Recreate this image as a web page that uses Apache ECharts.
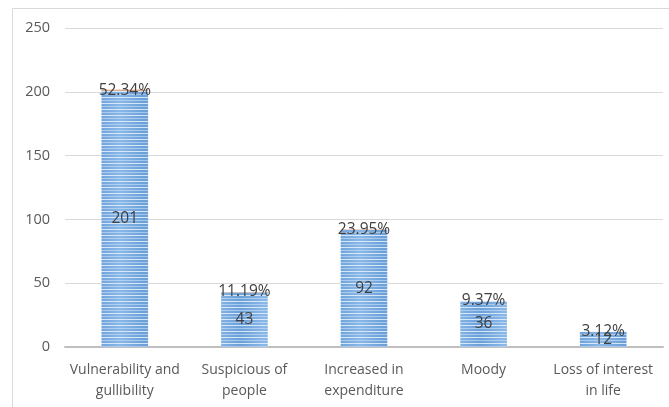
<!DOCTYPE html>
<html><head><meta charset="utf-8">
<script src="https://cdn.jsdelivr.net/npm/echarts@6/dist/echarts.min.js"></script>
<style>html,body{margin:0;padding:0;background:#fff}#c{width:669px;height:407px}</style>
</head><body><div id="c"></div>
<script>
const categories = ["Vulnerability and\ngullibility", "Suspicious of\npeople", "Increased in\nexpenditure", "Moody", "Loss of interest\nin life"];
const counts = [201, 43, 92, 36, 12];
const percents = [52.34, 11.19, 23.95, 9.37, 3.12];
const yTicks = [0, 50, 100, 150, 200, 250];

function stripePattern() {
  const cv = document.createElement('canvas');
  cv.width = 48; cv.height = 6;
  const ctx = cv.getContext('2d');
  const g = ctx.createLinearGradient(0, 0, 48, 0);
  g.addColorStop(0, '#6a9fd8'); g.addColorStop(0.5, '#8ab8e8'); g.addColorStop(1, '#6a9fd8');
  ctx.fillStyle = g; ctx.fillRect(0, 0, 48, 6);
  ctx.fillStyle = 'rgba(230,241,252,0.85)';
  ctx.fillRect(0, 1, 48, 1);
  ctx.fillStyle = 'rgba(205,225,246,0.6)';
  ctx.fillRect(0, 4, 48, 1);
  return cv;
}

const chart = echarts.init(document.getElementById('c'));
chart.setOption({
  animation: false,
  graphic: [{ type: 'rect', shape: { x: 12.5, y: 8.5, width: 700, height: 450 }, style: { fill: 'none', stroke: '#d9d9d9', lineWidth: 1 }, silent: true }],
  grid: { left: 65, right: 6, top: 28, bottom: 60 },
  xAxis: {
    type: 'category', data: categories,
    axisLine: { lineStyle: { color: '#bfbfbf', width: 2 } },
    axisTick: { show: false },
    axisLabel: { color: '#595959', fontFamily: 'Open Sans', fontSize: 14, lineHeight: 21, margin: 13, interval: 0 }
  },
  yAxis: {
    type: 'value', min: yTicks[0], max: yTicks[yTicks.length - 1], interval: 50,
    axisLine: { show: false }, axisTick: { show: false },
    axisLabel: { color: '#595959', fontFamily: 'Open Sans', fontSize: 14.5, margin: 15 },
    splitLine: { lineStyle: { color: '#d9d9d9', width: 1 } }
  },
  series: [
    {
      type: 'bar', stack: 's', data: counts, barWidth: '39%',
      itemStyle: { color: { image: stripePattern(), repeat: 'repeat' } },
      label: { show: true, position: 'inside', color: '#404040', fontFamily: 'Open Sans', fontSize: 15.5 }
    },
    {
      type: 'bar', stack: 's', data: percents.map(p => p / 100), barWidth: '39%',
      itemStyle: { color: '#ed7d31' },
      label: { show: true, position: 'inside', color: '#404040', fontFamily: 'Open Sans', fontSize: 15.5,
        formatter: p => percents[p.dataIndex].toFixed(2) + '%' }
    }
  ]
});
</script></body></html>
